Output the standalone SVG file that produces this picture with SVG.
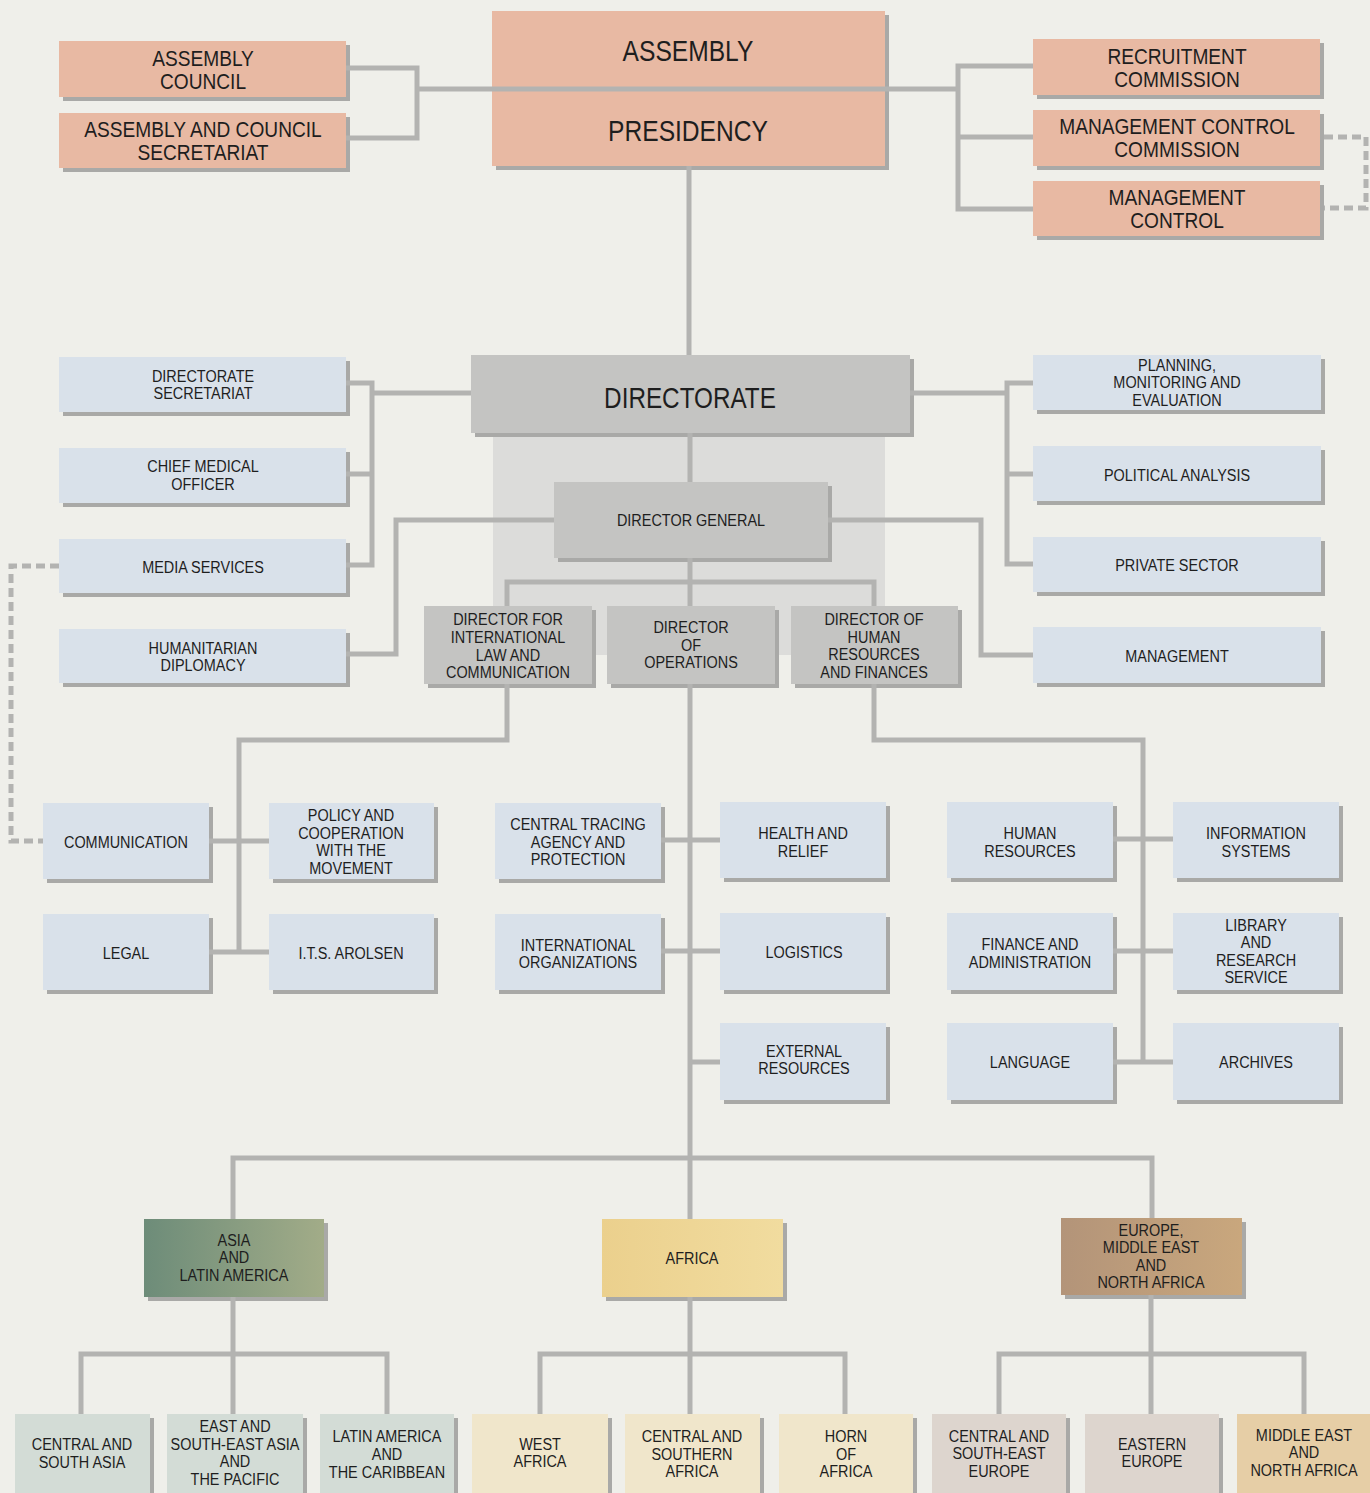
<svg xmlns="http://www.w3.org/2000/svg" width="1370" height="1493" viewBox="0 0 1370 1493">
<style>
.t{font-family:"Liberation Sans",Arial,sans-serif;font-size:17px;fill:#1e1e1e;text-anchor:middle}
.tm{font-size:22px}
.tl{font-size:30px}
.sh{fill:#a9a9a7}
.sal{fill:#e8b9a3}
.blu{fill:#d9e1ea}
.gry{fill:#c4c4c2}
.c{fill:none;stroke:#b3b3b1;stroke-width:5;stroke-linejoin:miter;stroke-linecap:butt}
.d{fill:none;stroke:#b3b3b1;stroke-width:5;stroke-dasharray:9 5}
</style>
<defs>
<linearGradient id="gAsia" x1="0" y1="0" x2="1" y2="0"><stop offset="0" stop-color="#6d8c79"/><stop offset="1" stop-color="#a2ac88"/></linearGradient>
<linearGradient id="gAfr" x1="0" y1="0" x2="1" y2="0"><stop offset="0" stop-color="#ebd08d"/><stop offset="1" stop-color="#f1dc9f"/></linearGradient>
<linearGradient id="gEur" x1="0" y1="0" x2="1" y2="0"><stop offset="0" stop-color="#b39479"/><stop offset="1" stop-color="#c9a77d"/></linearGradient>
</defs>
<rect x="0" y="0" width="1370" height="1493" fill="#efefea"/>
<rect id="panel" x="493" y="433" width="392" height="222" fill="#dcdcda"/>

<g id="nodes">
<g id="n_council"><rect class="sh" x="63" y="45" width="287" height="56"/><rect class="sal" x="59" y="41" width="287" height="56"/><text class="t tm" transform="translate(203 0) scale(0.87 1)"><tspan x="0" y="66">ASSEMBLY</tspan><tspan x="0" y="89">COUNCIL</tspan></text></g>
<g id="n_secretariat"><rect class="sh" x="63" y="117" width="287" height="55"/><rect class="sal" x="59" y="113" width="287" height="55"/><text class="t tm" transform="translate(203 0) scale(0.87 1)"><tspan x="0" y="137">ASSEMBLY AND COUNCIL</tspan><tspan x="0" y="160">SECRETARIAT</tspan></text></g>
<g id="n_assembly"><rect class="sh" x="496" y="15" width="393" height="155"/><rect class="sal" x="492" y="11" width="393" height="155"/><text class="t tl" transform="translate(688 0) scale(0.82 1)"><tspan x="0" y="61">ASSEMBLY</tspan><tspan x="0" y="141">PRESIDENCY</tspan></text></g>
<g id="n_recruit"><rect class="sh" x="1037" y="43" width="287" height="56"/><rect class="sal" x="1033" y="39" width="287" height="56"/><text class="t tm" transform="translate(1177 0) scale(0.87 1)"><tspan x="0" y="64">RECRUITMENT</tspan><tspan x="0" y="87">COMMISSION</tspan></text></g>
<g id="n_mcc"><rect class="sh" x="1037" y="114" width="287" height="56"/><rect class="sal" x="1033" y="110" width="287" height="56"/><text class="t tm" transform="translate(1177 0) scale(0.87 1)"><tspan x="0" y="134">MANAGEMENT CONTROL</tspan><tspan x="0" y="157">COMMISSION</tspan></text></g>
<g id="n_mc"><rect class="sh" x="1037" y="185" width="287" height="55"/><rect class="sal" x="1033" y="181" width="287" height="55"/><text class="t tm" transform="translate(1177 0) scale(0.87 1)"><tspan x="0" y="205">MANAGEMENT</tspan><tspan x="0" y="228">CONTROL</tspan></text></g>

<g id="n_directorate"><rect class="sh" x="475" y="359" width="439" height="78"/><rect class="gry" x="471" y="355" width="439" height="78"/><text class="t tl" transform="translate(690 0) scale(0.81 1)"><tspan x="0" y="408">DIRECTORATE</tspan></text></g>
<g id="n_dg"><rect class="sh" x="558" y="486" width="274" height="76"/><rect class="gry" x="554" y="482" width="274" height="76" fill="#c8c8c6"/><text class="t" transform="translate(691 0) scale(0.85 1)"><tspan x="0" y="526">DIRECTOR GENERAL</tspan></text></g>
<g id="n_dil"><rect class="sh" x="428" y="610" width="168" height="78"/><rect class="gry" x="424" y="606" width="168" height="78"/><text class="t" transform="translate(508 0) scale(0.85 1)"><tspan x="0" y="625">DIRECTOR FOR</tspan><tspan x="0" y="643">INTERNATIONAL</tspan><tspan x="0" y="661">LAW AND</tspan><tspan x="0" y="678">COMMUNICATION</tspan></text></g>
<g id="n_dops"><rect class="sh" x="611" y="610" width="168" height="78"/><rect class="gry" x="607" y="606" width="168" height="78"/><text class="t" transform="translate(691 0) scale(0.85 1)"><tspan x="0" y="633">DIRECTOR</tspan><tspan x="0" y="651">OF</tspan><tspan x="0" y="668">OPERATIONS</tspan></text></g>
<g id="n_dhr"><rect class="sh" x="795" y="610" width="167" height="78"/><rect class="gry" x="791" y="606" width="167" height="78"/><text class="t" transform="translate(874 0) scale(0.85 1)"><tspan x="0" y="625">DIRECTOR OF</tspan><tspan x="0" y="643">HUMAN</tspan><tspan x="0" y="660">RESOURCES</tspan><tspan x="0" y="678">AND FINANCES</tspan></text></g>

<g id="n_dsec"><rect class="sh" x="63" y="361" width="287" height="55"/><rect class="blu" x="59" y="357" width="287" height="55"/><text class="t" transform="translate(203 0) scale(0.85 1)"><tspan x="0" y="382">DIRECTORATE</tspan><tspan x="0" y="399">SECRETARIAT</tspan></text></g>
<g id="n_cmo"><rect class="sh" x="63" y="452" width="287" height="55"/><rect class="blu" x="59" y="448" width="287" height="55"/><text class="t" transform="translate(203 0) scale(0.85 1)"><tspan x="0" y="472">CHIEF MEDICAL</tspan><tspan x="0" y="490">OFFICER</tspan></text></g>
<g id="n_media"><rect class="sh" x="63" y="543" width="287" height="54"/><rect class="blu" x="59" y="539" width="287" height="54"/><text class="t" transform="translate(203 0) scale(0.85 1)"><tspan x="0" y="573">MEDIA SERVICES</tspan></text></g>
<g id="n_hd"><rect class="sh" x="63" y="633" width="287" height="54"/><rect class="blu" x="59" y="629" width="287" height="54"/><text class="t" transform="translate(203 0) scale(0.85 1)"><tspan x="0" y="654">HUMANITARIAN</tspan><tspan x="0" y="671">DIPLOMACY</tspan></text></g>

<g id="n_pme"><rect class="sh" x="1037" y="359" width="288" height="55"/><rect class="blu" x="1033" y="355" width="288" height="55"/><text class="t" transform="translate(1177 0) scale(0.85 1)"><tspan x="0" y="371">PLANNING,</tspan><tspan x="0" y="388">MONITORING AND</tspan><tspan x="0" y="406">EVALUATION</tspan></text></g>
<g id="n_pa"><rect class="sh" x="1037" y="450" width="288" height="55"/><rect class="blu" x="1033" y="446" width="288" height="55"/><text class="t" transform="translate(1177 0) scale(0.85 1)"><tspan x="0" y="481">POLITICAL ANALYSIS</tspan></text></g>
<g id="n_ps"><rect class="sh" x="1037" y="541" width="288" height="55"/><rect class="blu" x="1033" y="537" width="288" height="55"/><text class="t" transform="translate(1177 0) scale(0.85 1)"><tspan x="0" y="571">PRIVATE SECTOR</tspan></text></g>
<g id="n_mgmt"><rect class="sh" x="1037" y="631" width="288" height="56"/><rect class="blu" x="1033" y="627" width="288" height="56"/><text class="t" transform="translate(1177 0) scale(0.85 1)"><tspan x="0" y="662">MANAGEMENT</tspan></text></g>

<g id="n_comm"><rect class="sh" x="47" y="807" width="166" height="76"/><rect class="blu" x="43" y="803" width="166" height="76"/><text class="t" transform="translate(126 0) scale(0.85 1)"><tspan x="0" y="848">COMMUNICATION</tspan></text></g>
<g id="n_policy"><rect class="sh" x="273" y="807" width="165" height="76"/><rect class="blu" x="269" y="803" width="165" height="76"/><text class="t" transform="translate(351 0) scale(0.85 1)"><tspan x="0" y="821">POLICY AND</tspan><tspan x="0" y="839">COOPERATION</tspan><tspan x="0" y="856">WITH THE</tspan><tspan x="0" y="874">MOVEMENT</tspan></text></g>
<g id="n_ctap"><rect class="sh" x="499" y="807" width="166" height="76"/><rect class="blu" x="495" y="803" width="166" height="76"/><text class="t" transform="translate(578 0) scale(0.85 1)"><tspan x="0" y="830">CENTRAL TRACING</tspan><tspan x="0" y="848">AGENCY AND</tspan><tspan x="0" y="865">PROTECTION</tspan></text></g>
<g id="n_legal"><rect class="sh" x="47" y="918" width="166" height="76"/><rect class="blu" x="43" y="914" width="166" height="76"/><text class="t" transform="translate(126 0) scale(0.85 1)"><tspan x="0" y="959">LEGAL</tspan></text></g>
<g id="n_its"><rect class="sh" x="273" y="918" width="165" height="76"/><rect class="blu" x="269" y="914" width="165" height="76"/><text class="t" transform="translate(351 0) scale(0.85 1)"><tspan x="0" y="959">I.T.S. AROLSEN</tspan></text></g>
<g id="n_io"><rect class="sh" x="499" y="918" width="166" height="76"/><rect class="blu" x="495" y="914" width="166" height="76"/><text class="t" transform="translate(578 0) scale(0.85 1)"><tspan x="0" y="951">INTERNATIONAL</tspan><tspan x="0" y="968">ORGANIZATIONS</tspan></text></g>
<g id="n_health"><rect class="sh" x="724" y="806" width="166" height="76"/><rect class="blu" x="720" y="802" width="166" height="76"/><text class="t" transform="translate(803 0) scale(0.85 1)"><tspan x="0" y="839">HEALTH AND</tspan><tspan x="0" y="857">RELIEF</tspan></text></g>
<g id="n_log"><rect class="sh" x="724" y="917" width="166" height="77"/><rect class="blu" x="720" y="913" width="166" height="77"/><text class="t" transform="translate(804 0) scale(0.85 1)"><tspan x="0" y="958">LOGISTICS</tspan></text></g>
<g id="n_ext"><rect class="sh" x="724" y="1027" width="166" height="77"/><rect class="blu" x="720" y="1023" width="166" height="77"/><text class="t" transform="translate(804 0) scale(0.85 1)"><tspan x="0" y="1057">EXTERNAL</tspan><tspan x="0" y="1074">RESOURCES</tspan></text></g>
<g id="n_hr"><rect class="sh" x="951" y="806" width="166" height="76"/><rect class="blu" x="947" y="802" width="166" height="76"/><text class="t" transform="translate(1030 0) scale(0.85 1)"><tspan x="0" y="839">HUMAN</tspan><tspan x="0" y="857">RESOURCES</tspan></text></g>
<g id="n_fin"><rect class="sh" x="951" y="917" width="166" height="77"/><rect class="blu" x="947" y="913" width="166" height="77"/><text class="t" transform="translate(1030 0) scale(0.85 1)"><tspan x="0" y="950">FINANCE AND</tspan><tspan x="0" y="968">ADMINISTRATION</tspan></text></g>
<g id="n_lang"><rect class="sh" x="951" y="1027" width="166" height="77"/><rect class="blu" x="947" y="1023" width="166" height="77"/><text class="t" transform="translate(1030 0) scale(0.85 1)"><tspan x="0" y="1068">LANGUAGE</tspan></text></g>
<g id="n_is"><rect class="sh" x="1177" y="806" width="166" height="76"/><rect class="blu" x="1173" y="802" width="166" height="76"/><text class="t" transform="translate(1256 0) scale(0.85 1)"><tspan x="0" y="839">INFORMATION</tspan><tspan x="0" y="857">SYSTEMS</tspan></text></g>
<g id="n_lib"><rect class="sh" x="1177" y="917" width="166" height="77"/><rect class="blu" x="1173" y="913" width="166" height="77"/><text class="t" transform="translate(1256 0) scale(0.85 1)"><tspan x="0" y="931">LIBRARY</tspan><tspan x="0" y="948">AND</tspan><tspan x="0" y="966">RESEARCH</tspan><tspan x="0" y="983">SERVICE</tspan></text></g>
<g id="n_arch"><rect class="sh" x="1177" y="1027" width="166" height="77"/><rect class="blu" x="1173" y="1023" width="166" height="77"/><text class="t" transform="translate(1256 0) scale(0.85 1)"><tspan x="0" y="1068">ARCHIVES</tspan></text></g>

<g id="n_asia"><rect class="sh" x="148" y="1223" width="180" height="78"/><rect x="144" y="1219" width="180" height="78" fill="url(#gAsia)"/><text class="t" transform="translate(234 0) scale(0.85 1)"><tspan x="0" y="1246">ASIA</tspan><tspan x="0" y="1263">AND</tspan><tspan x="0" y="1281">LATIN AMERICA</tspan></text></g>
<g id="n_africa"><rect class="sh" x="606" y="1223" width="181" height="78"/><rect x="602" y="1219" width="181" height="78" fill="url(#gAfr)"/><text class="t" transform="translate(692 0) scale(0.85 1)"><tspan x="0" y="1264">AFRICA</tspan></text></g>
<g id="n_europe"><rect class="sh" x="1065" y="1222" width="181" height="77"/><rect x="1061" y="1218" width="181" height="77" fill="url(#gEur)"/><text class="t" transform="translate(1151 0) scale(0.85 1)"><tspan x="0" y="1236">EUROPE,</tspan><tspan x="0" y="1253">MIDDLE EAST</tspan><tspan x="0" y="1271">AND</tspan><tspan x="0" y="1288">NORTH AFRICA</tspan></text></g>

<g id="n_csa"><rect class="sh" x="19" y="1418" width="135" height="85"/><rect x="15" y="1414" width="135" height="85" fill="#d3dcd6"/><text class="t" transform="translate(82 0) scale(0.85 1)"><tspan x="0" y="1450">CENTRAL AND</tspan><tspan x="0" y="1468">SOUTH ASIA</tspan></text></g>
<g id="n_esea"><rect class="sh" x="171" y="1418" width="136" height="85"/><rect x="167" y="1414" width="136" height="85" fill="#d3dcd6"/><text class="t" transform="translate(235 0) scale(0.85 1)"><tspan x="0" y="1432">EAST AND</tspan><tspan x="0" y="1450">SOUTH-EAST ASIA</tspan><tspan x="0" y="1467">AND</tspan><tspan x="0" y="1485">THE PACIFIC</tspan></text></g>
<g id="n_lac"><rect class="sh" x="324" y="1418" width="134" height="85"/><rect x="320" y="1414" width="134" height="85" fill="#d3dcd6"/><text class="t" transform="translate(387 0) scale(0.85 1)"><tspan x="0" y="1442">LATIN AMERICA</tspan><tspan x="0" y="1460">AND</tspan><tspan x="0" y="1478">THE CARIBBEAN</tspan></text></g>
<g id="n_wa"><rect class="sh" x="476" y="1418" width="136" height="85"/><rect x="472" y="1414" width="136" height="85" fill="#f0e6cb"/><text class="t" transform="translate(540 0) scale(0.85 1)"><tspan x="0" y="1450">WEST</tspan><tspan x="0" y="1467">AFRICA</tspan></text></g>
<g id="n_csaf"><rect class="sh" x="629" y="1418" width="135" height="85"/><rect x="625" y="1414" width="135" height="85" fill="#f0e6cb"/><text class="t" transform="translate(692 0) scale(0.85 1)"><tspan x="0" y="1442">CENTRAL AND</tspan><tspan x="0" y="1460">SOUTHERN</tspan><tspan x="0" y="1477">AFRICA</tspan></text></g>
<g id="n_horn"><rect class="sh" x="783" y="1418" width="134" height="85"/><rect x="779" y="1414" width="134" height="85" fill="#f0e6cb"/><text class="t" transform="translate(846 0) scale(0.85 1)"><tspan x="0" y="1442">HORN</tspan><tspan x="0" y="1460">OF</tspan><tspan x="0" y="1477">AFRICA</tspan></text></g>
<g id="n_csee"><rect class="sh" x="936" y="1418" width="134" height="85"/><rect x="932" y="1414" width="134" height="85" fill="#ddd5ce"/><text class="t" transform="translate(999 0) scale(0.85 1)"><tspan x="0" y="1442">CENTRAL AND</tspan><tspan x="0" y="1459">SOUTH-EAST</tspan><tspan x="0" y="1477">EUROPE</tspan></text></g>
<g id="n_ee"><rect class="sh" x="1089" y="1418" width="134" height="85"/><rect x="1085" y="1414" width="134" height="85" fill="#ddd5ce"/><text class="t" transform="translate(1152 0) scale(0.85 1)"><tspan x="0" y="1450">EASTERN</tspan><tspan x="0" y="1467">EUROPE</tspan></text></g>
<g id="n_mena"><rect x="1237" y="1414" width="133" height="85" fill="#e6cea6"/><text class="t" transform="translate(1304 0) scale(0.85 1)"><tspan x="0" y="1441">MIDDLE EAST</tspan><tspan x="0" y="1458">AND</tspan><tspan x="0" y="1476">NORTH AFRICA</tspan></text></g>
</g>

<g id="connectors">
<path class="c" d="M346,68 H417 V138 H346"/>
<path class="c" d="M417,89 H958"/>
<path class="c" d="M1033,66 H958 V209 H1033 M958,137 H1033"/>
<path class="c" d="M689,166 V355"/>
<path class="c" d="M471,393 H372 M346,383 H372 V565 H346 M346,474 H372"/>
<path class="c" d="M910,393 H1007 M1033,383 H1007 V564 H1033 M1007,474 H1033"/>
<path class="c" d="M690,433 V482"/>
<path class="c" d="M554,520 H396 V654 H346"/>
<path class="c" d="M828,520 H981 V655 H1033"/>
<path class="c" d="M690,558 V606 M507,606 V582 H874 V606"/>
<path class="c" d="M507,684 V740 H239 V952 M209,841 H269 M209,952 H269"/>
<path class="c" d="M690,684 V1219 M661,840 H720 M661,951 H720 M690,1062 H720"/>
<path class="c" d="M874,684 V740 H1143 V1062 M1113,839 H1173 M1113,951 H1173 M1113,1062 H1173"/>
<path class="c" d="M233,1219 V1158 H1152 V1218"/>
<path class="c" d="M233,1297 V1414 M81,1414 V1354 H387 V1414"/>
<path class="c" d="M690,1297 V1414 M540,1414 V1354 H845 V1414"/>
<path class="c" d="M1151,1295 V1414 M999,1414 V1354 H1304 V1414"/>
<path class="d" d="M1324,137 H1366 V208 H1324"/>
<path class="d" d="M59,566 H11 V841 H43"/>
</g>
</svg>
